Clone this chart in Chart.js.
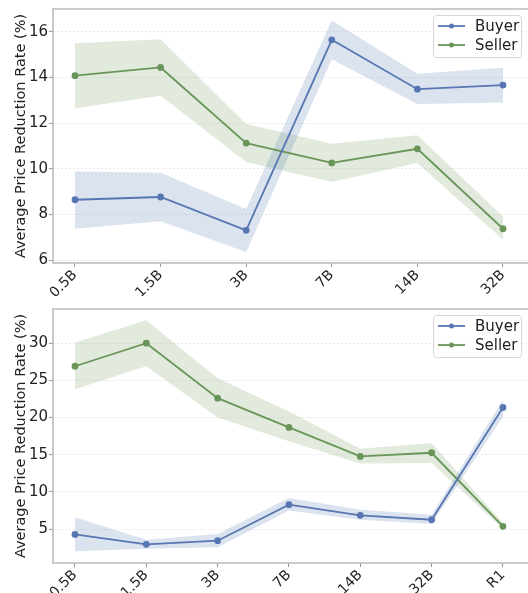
<!DOCTYPE html>
<html>
<head>
<meta charset="utf-8">
<script src="https://cdn.jsdelivr.net/npm/chart.js@4.4.1/dist/chart.umd.min.js"></script>
<style>
  html, body { margin: 0; padding: 0; background: #fff; overflow: hidden; }
  #wrap { position: relative; width: 528px; height: 593px; overflow: hidden; }
  .box { position: absolute; left: 0; width: 530px; }
</style>
</head>
<body>
<div id="wrap">
  <div class="box" style="top:0;height:296px"><canvas id="chartTop"></canvas></div>
  <div class="box" style="top:296px;height:297px"><canvas id="chartBottom"></canvas></div>
</div>
<script>
// ---- top panel data ----
const topCategories = ['0.5B', '1.5B', '3B', '7B', '14B', '32B'];
const topBuyer      = [8.65, 8.77, 7.31, 15.65, 13.49, 13.67];
const topBuyerLow   = [7.38, 7.71, 6.36, 14.8, 12.84, 12.91];
const topBuyerHigh  = [9.89, 9.83, 8.24, 16.5, 14.16, 14.43];
const topSeller     = [14.08, 14.44, 11.13, 10.26, 10.88, 7.38];
const topSellerLow  = [12.65, 13.2, 10.3, 9.43, 10.26, 6.9];
const topSellerHigh = [15.5, 15.68, 11.96, 11.1, 11.47, 7.92];
const topYTicks     = [6, 8, 10, 12, 14, 16];

// ---- bottom panel data ----
const bottomCategories = ['0.5B', '1.5B', '3B', '7B', '14B', '32B', 'R1'];
const bottomBuyer      = [4.28, 2.94, 3.43, 8.27, 6.84, 6.25, 21.35];
const bottomBuyerLow   = [2.0, 2.36, 2.54, 7.5, 6.25, 5.67, 20.1];
const bottomBuyerHigh  = [6.6, 3.57, 4.33, 9.17, 7.6, 6.93, 22.4];
const bottomSeller     = [26.9, 30.0, 22.6, 18.67, 14.77, 15.26, 5.36];
const bottomSellerLow  = [23.8, 26.9, 20.0, 16.8, 13.8, 13.87, 5.0];
const bottomSellerHigh = [30.1, 33.1, 25.3, 20.8, 15.8, 16.56, 5.8];
const bottomYTicks     = [5, 10, 15, 20, 25, 30];

const seriesNames = ['Buyer', 'Seller'];

const BLUE = '#5876b1';
const GREEN = '#6a955a';
const BLUE_BAND = 'rgba(76, 114, 176, 0.2)';
const GREEN_BAND = 'rgba(104, 150, 80, 0.2)';
const FONT = "'DejaVu Sans', sans-serif";

const pts = arr => arr.map((v, i) => ({ x: i, y: v }));

// legend drawn inside the plot, top right
const insideLegend = {
    id: 'insideLegend',
    afterDraw(chart) {
        const ctx = chart.ctx;
        const a = chart.chartArea;
        const items = chart.data.datasets.filter(d => d.inLegend);
        const w = 88, h = 42;
        const x = 433, y = a.top + 6;
        ctx.save();
        ctx.fillStyle = 'rgba(255,255,255,0.85)';
        ctx.strokeStyle = '#d6d6d6';
        ctx.lineWidth = 1;
        ctx.beginPath();
        ctx.roundRect(x + 0.5, y + 0.5, w, h, 3);
        ctx.fill();
        ctx.stroke();
        ctx.font = '15px ' + FONT;
        ctx.textBaseline = 'middle';
        items.forEach((d, i) => {
            const ry = y + 11 + i * 19;
            ctx.strokeStyle = d.borderColor;
            ctx.lineWidth = 1.8;
            ctx.beginPath();
            ctx.moveTo(x + 5, ry);
            ctx.lineTo(x + 32, ry);
            ctx.stroke();
            ctx.fillStyle = d.borderColor;
            ctx.beginPath();
            ctx.arc(x + 18.5, ry, 2.5, 0, Math.PI * 2);
            ctx.fill();
            ctx.fillStyle = '#222';
            ctx.fillText(d.label, x + 42, ry + 1);
        });
        ctx.restore();
    }
};

// matplotlib-like frame round the plot area
const frame = {
    id: 'frame',
    afterDatasetsDraw(chart) {
        const ctx = chart.ctx;
        const a = chart.chartArea;
        ctx.save();
        ctx.strokeStyle = '#b9b9b9';
        ctx.lineWidth = 1.5;
        ctx.strokeRect(a.left, a.top, a.right - a.left, a.bottom - a.top);
        ctx.restore();
    }
};

function makeChart(id, cats, buyer, buyerLow, buyerHigh, seller, sellerLow, sellerHigh, yTicks, xRange, yRange, padTop, xHeight) {
    const band = (data, color) => ({
        data: pts(data), borderWidth: 0, pointRadius: 0, backgroundColor: color,
        borderColor: 'transparent', fill: false, order: 2
    });
    const line = (name, data, color) => ({
        label: name, data: pts(data), borderColor: color, backgroundColor: color,
        borderWidth: 1.8, pointRadius: 2.5, pointHoverRadius: 2.5, fill: false,
        order: 0, inLegend: true
    });
    const bHigh = band(buyerHigh, BLUE_BAND);
    const bLow = Object.assign(band(buyerLow, BLUE_BAND), { fill: '-1' });
    const sHigh = band(sellerHigh, GREEN_BAND);
    const sLow = Object.assign(band(sellerLow, GREEN_BAND), { fill: '-1' });

    return new Chart(document.getElementById(id), {
        type: 'line',
        data: {
            datasets: [
                line(seriesNames[0], buyer, BLUE),
                line(seriesNames[1], seller, GREEN),
                bHigh, bLow, sHigh, sLow
            ]
        },
        options: {
            responsive: true,
            maintainAspectRatio: false,
            animation: false,
            layout: { autoPadding: false, padding: { top: padTop, right: 1, left: 0, bottom: 0 } },
            plugins: { legend: { display: false }, tooltip: { enabled: false } },
            elements: { line: { tension: 0 } },
            scales: {
                x: {
                    type: 'linear',
                    min: xRange[0], max: xRange[1],
                    afterBuildTicks: s => { s.ticks = cats.map((c, i) => ({ value: i })); },
                    afterFit: s => { s.height = xHeight; s.paddingRight = 0; s.paddingLeft = 0; },
                    ticks: {
                        callback: v => cats[v],
                        minRotation: 45, maxRotation: 45,
                        color: '#222', font: { family: FONT, size: 14 }, padding: 0
                    },
                    grid: { drawOnChartArea: false, drawTicks: true, tickLength: 4, tickColor: '#999', tickWidth: 1 },
                    border: { display: false }
                },
                y: {
                    min: yRange[0], max: yRange[1],
                    afterBuildTicks: s => { s.ticks = yTicks.map(v => ({ value: v })); },
                    afterFit: s => { s.width = 53; s.paddingTop = 0; s.paddingBottom = 0; },
                    ticks: { color: '#222', font: { family: FONT, size: 15 }, padding: 1 },
                    grid: { color: '#e4e4e4', lineWidth: 0.8, tickLength: 4, tickColor: '#999', tickWidth: 1 },
                    border: { display: false, dash: [2, 2] },
                    title: {
                        display: true, text: 'Average Price Reduction Rate (%)',
                        color: '#222', font: { family: FONT, size: 14.5 }, padding: { top: 13, bottom: 0 }
                    }
                }
            }
        },
        plugins: [frame, insideLegend]
    });
}

makeChart('chartTop', topCategories, topBuyer, topBuyerLow, topBuyerHigh,
    topSeller, topSellerLow, topSellerHigh, topYTicks, [-0.257, 5.304], [5.88, 17.0], 9, 33);
makeChart('chartBottom', bottomCategories, bottomBuyer, bottomBuyerLow, bottomBuyerHigh,
    bottomSeller, bottomSellerLow, bottomSellerHigh, bottomYTicks, [-0.308, 6.365], [0.43, 34.6], 13, 30);
</script>
</body>
</html>
